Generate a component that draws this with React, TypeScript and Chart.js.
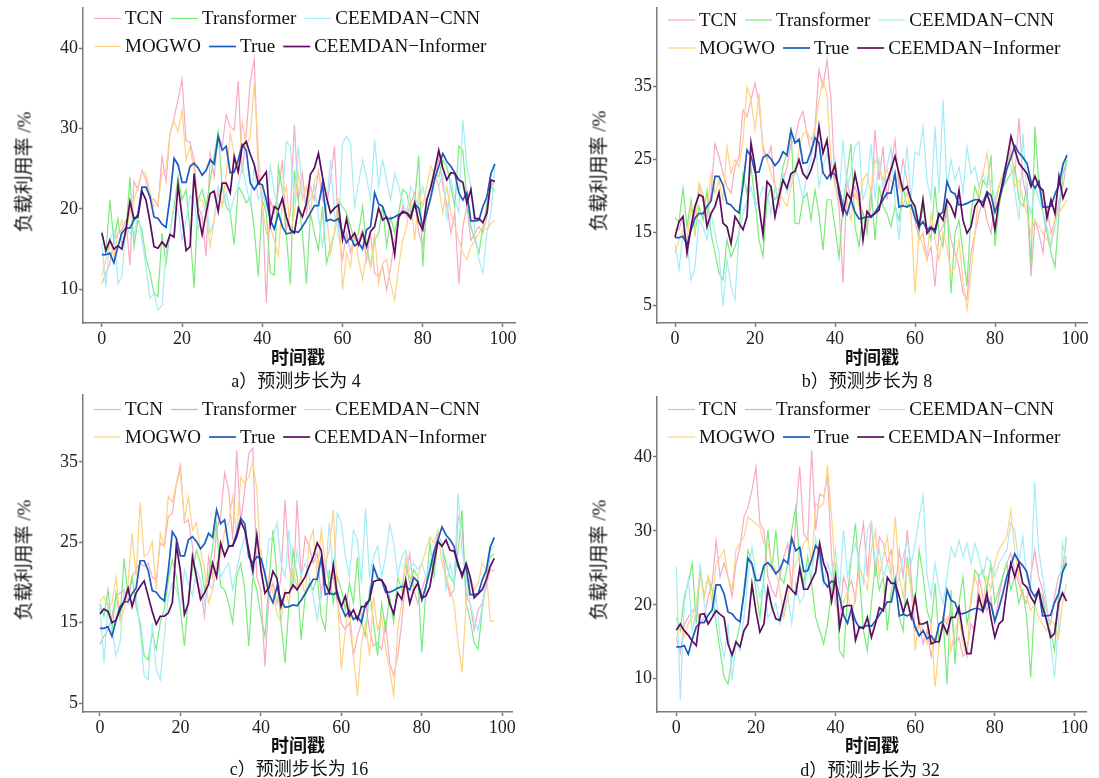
import React, { useEffect, useRef } from "react";
import { Chart, registerables } from "chart.js";

Chart.register(...registerables);

// ---------------- data ----------------
const X_TICKS = [0, 20, 40, 60, 80, 100];
const Y_TICKS_A = [10, 20, 30, 40];
const Y_TICKS_B = [5, 15, 25, 35];
const Y_TICKS_C = [5, 15, 25, 35];
const Y_TICKS_D = [10, 20, 30, 40];

const SERIES_NAMES = ["TCN", "Transformer", "CEEMDAN\u2212CNN", "MOGWO", "True", "CEEMDAN\u2212Informer"];

const TRUE_VALUES = [14.3,14.3,14.5,13.3,15.3,17.0,17.6,17.6,18.6,19.3,
22.7,22.7,21.5,19.0,18.8,18.1,17.7,21.5,26.3,25.5,
23.3,23.3,25.3,25.7,25.1,24.2,24.8,26.1,25.6,29.0,
27.3,27.8,24.5,24.6,26.1,28.0,27.3,23.2,22.4,23.2,
23.0,21.1,18.6,17.5,19.5,17.8,16.9,17.0,17.2,17.1,
17.8,18.6,19.5,20.4,20.4,23.1,18.5,18.7,18.5,18.8,
17.0,15.8,16.5,15.4,15.8,15.0,17.4,17.8,22.0,20.6,
20.3,18.8,18.8,19.0,19.3,19.5,19.5,19.1,20.6,20.1,
17.8,19.5,21.5,23.8,25.3,26.9,25.9,25.3,24.5,22.0,
21.1,22.0,18.5,18.5,18.6,20.3,21.5,24.4,25.6];

// panel a (step 4)
const A_TCN = [10.7,12.0,13.2,16.1,17.0,17.4,18.6,13.0,23.4,22.4,
24.8,23.6,21.3,21.2,20.3,26.5,23.4,29.4,31.3,33.6,
36.1,28.5,28.3,26.1,20.3,19.0,14.1,26.9,24.0,29.4,
27.8,31.7,30.2,29.8,35.9,24.4,29.4,35.9,38.6,24.4,
21.1,8.3,21.1,19.5,22.4,26.1,17.4,19.5,30.5,21.1,
24.4,19.5,22.8,21.1,24.8,21.1,20.3,23.6,27.8,17.0,
13.7,17.0,14.5,17.0,16.1,17.4,13.7,17.0,12.0,11.6,
12.8,9.9,12.8,16.1,18.6,20.3,19.0,20.7,22.0,17.0,
15.3,19.5,21.1,23.6,26.5,22.8,20.7,17.0,19.5,10.7,
17.8,20.3,16.1,17.0,17.8,17.0,19.0,22.8,23.6];
const A_TRANSFORMER = [17.2,14.5,21.1,16.1,18.8,15.5,17.0,24.0,15.3,18.6,
17.4,13.9,12.0,9.5,9.1,17.0,13.2,17.0,20.3,24.0,
21.1,22.4,17.0,10.2,21.1,22.4,20.3,23.6,26.5,29.6,
22.8,20.3,19.5,15.5,22.8,22.0,20.7,21.5,17.4,11.6,
21.1,19.5,12.0,11.8,25.3,22.4,16.6,10.6,24.8,21.1,
17.0,10.7,19.5,17.0,14.9,20.3,13.2,15.3,17.0,21.1,
20.3,19.5,17.8,16.1,17.0,20.3,15.3,12.8,16.1,17.0,
20.3,15.3,19.0,17.0,19.5,22.4,22.0,19.5,21.1,26.6,
12.8,21.1,22.8,24.4,24.0,26.1,25.3,22.8,20.3,27.8,
27.3,21.1,17.8,16.1,14.5,17.8,20.7,22.8,22.2];
const A_CNN = [15.7,10.3,16.1,17.4,10.7,11.6,17.8,17.0,16.5,19.5,
16.1,12.8,8.9,9.5,7.4,8.0,14.5,17.0,20.3,19.9,
16.1,18.6,21.7,20.7,17.4,19.5,20.3,17.0,18.6,22.8,
20.3,22.0,19.5,21.5,22.8,25.3,22.8,20.7,25.3,21.1,
22.0,20.3,25.3,22.0,20.3,21.1,28.4,27.8,20.7,27.8,
22.0,20.3,21.1,22.8,19.0,15.3,20.3,26.1,19.5,17.0,
28.2,29.0,28.2,20.3,23.2,26.1,24.0,21.1,28.6,22.8,
26.1,23.6,21.1,24.4,22.8,20.7,19.5,22.8,21.5,20.3,
22.8,20.3,21.1,24.0,22.8,24.4,18.6,23.6,21.1,19.5,
31.1,25.3,22.8,17.0,13.7,12.0,17.0,19.5,25.3];
const A_MOGWO = [11.6,13.7,16.1,14.1,17.0,18.6,17.0,19.5,21.1,22.8,
24.6,24.4,22.0,20.3,20.7,24.4,24.8,29.4,30.9,29.6,
32.3,26.1,27.8,24.8,21.1,21.1,19.5,15.3,18.6,22.0,
20.3,24.4,29.4,26.9,24.4,30.9,27.8,29.0,35.6,27.3,
20.3,17.0,17.8,16.1,14.1,21.1,22.8,17.0,19.5,24.4,
21.1,22.8,19.5,23.6,24.4,22.8,19.5,14.5,17.0,21.1,
9.9,14.5,12.8,17.0,13.7,11.2,14.5,12.8,17.0,10.7,
13.2,13.7,10.7,8.7,12.8,16.1,17.8,21.1,16.1,22.0,
20.3,22.8,25.3,24.4,22.8,19.5,22.8,19.5,17.8,16.1,
14.5,13.7,15.3,16.1,17.0,17.8,17.4,18.2,18.6];
const A_INFORMER = [17.0,14.8,16.1,15.0,15.4,15.0,17.4,20.9,18.8,19.0,
22.2,21.1,18.4,15.3,15.1,15.9,15.3,16.8,16.5,23.0,
19.0,14.8,15.3,24.4,19.5,16.8,19.5,21.9,22.2,19.7,
23.2,23.2,22.0,26.5,24.6,27.8,28.4,26.8,25.5,23.2,
23.9,24.6,18.0,20.3,19.9,21.3,19.0,17.4,17.0,20.1,
19.0,20.7,24.3,25.1,26.9,24.0,21.5,19.5,20.1,20.5,
16.2,18.8,16.3,17.0,15.5,17.0,15.3,17.2,17.8,20.1,
18.6,19.0,17.4,14.3,19.0,19.7,19.5,18.8,20.7,18.4,
17.4,21.1,22.7,24.9,27.3,25.1,23.6,24.5,24.4,23.6,
23.3,20.7,22.4,18.8,18.8,18.3,19.5,23.6,23.4];

// panel b (step 8)
const B_TCN = [15.4,15.4,17.2,13.1,15.8,17.6,21.3,19.5,17.2,20.4,
27.2,25.4,23.1,21.3,20.4,24.0,25.4,31.8,30.9,33.2,
35.5,32.7,26.8,25.0,26.8,21.3,18.6,22.2,24.0,27.2,
27.7,30.4,31.6,28.6,25.9,29.5,37.3,35.0,38.7,33.2,
21.8,18.6,8.1,22.2,19.5,21.3,19.5,17.6,15.8,18.6,
29.1,22.2,26.8,19.5,24.0,27.7,21.3,25.0,22.2,19.5,
16.7,14.0,14.9,11.3,13.1,7.6,14.9,15.8,17.6,14.0,
12.2,10.3,6.7,5.8,12.2,14.9,17.6,19.5,16.7,14.9,
19.5,21.3,23.1,24.0,25.9,23.1,30.7,22.2,19.5,9.0,
16.7,14.9,12.2,18.6,14.9,16.7,19.5,21.3,25.0];
const B_TRANSFORMER = [17.0,16.5,21.1,15.8,19.5,14.9,18.6,16.7,20.8,14.9,
12.2,9.4,8.5,14.0,11.7,13.1,14.9,23.1,20.4,24.0,
19.5,14.0,11.7,19.5,21.3,19.5,20.4,24.0,25.9,29.5,
16.3,16.2,19.5,20.4,16.7,20.8,17.6,12.6,19.5,19.5,
15.8,11.5,18.6,23.1,27.2,15.8,13.1,17.6,14.9,21.3,
14.0,21.3,18.6,17.6,15.8,18.6,16.7,21.3,18.6,19.5,
17.6,14.9,18.6,15.8,14.0,21.3,14.9,13.1,19.5,6.7,
14.9,16.7,12.2,7.6,17.6,21.3,19.5,22.2,21.3,25.6,
13.1,18.6,21.3,22.2,23.1,24.0,19.5,18.6,21.3,10.3,
29.5,21.3,17.6,14.9,12.2,10.3,17.6,23.1,25.0];
const B_CNN = [13.5,9.9,14.9,14.0,8.5,10.3,16.7,15.8,14.0,17.6,
14.9,12.2,4.9,11.3,7.6,5.8,14.9,17.6,19.5,21.3,
18.6,19.5,21.3,20.4,17.6,21.3,19.5,23.1,20.4,22.2,
24.0,22.2,19.5,23.1,25.0,28.6,21.3,24.0,25.9,22.2,
25.0,19.5,27.7,21.3,23.1,26.8,27.5,19.5,21.3,27.2,
19.5,25.0,21.3,24.0,26.8,19.5,14.0,21.3,26.8,19.5,
26.1,25.6,29.5,22.2,19.5,29.5,20.4,33.2,21.3,25.0,
22.2,24.0,20.4,26.8,23.1,24.0,21.3,23.1,21.3,22.2,
19.5,21.3,23.1,25.0,24.0,20.4,16.7,28.6,19.5,17.6,
21.3,19.5,17.6,15.8,13.1,15.8,18.6,24.0,25.9];
const B_MOGWO = [12.2,14.0,15.4,14.0,18.6,14.9,21.8,20.4,17.6,23.1,
20.4,22.2,19.5,26.8,23.1,25.0,24.0,27.7,35.0,33.2,
29.1,34.1,25.9,25.0,23.1,21.3,20.8,19.5,18.6,21.3,
23.1,26.3,28.6,28.8,27.7,29.1,33.2,35.9,33.9,25.0,
21.3,19.5,17.6,19.5,16.7,20.4,18.6,22.2,23.1,20.4,
25.0,24.0,22.2,23.6,22.2,21.3,23.1,18.6,20.4,17.6,
6.7,14.9,13.1,11.3,17.6,14.0,11.3,14.9,13.1,9.4,
10.3,14.0,8.5,4.4,9.4,14.9,21.3,23.1,25.9,20.4,
18.6,21.3,23.1,24.0,26.8,21.3,22.2,19.5,17.6,14.9,
16.7,15.8,14.9,14.0,13.5,17.1,17.6,18.6,19.5];
const B_INFORMER = [14.4,16.5,17.2,12.2,15.8,18.6,20.2,19.9,15.8,17.6,
18.6,20.5,16.3,15.8,13.5,17.2,16.3,15.4,17.2,27.3,
24.0,18.6,14.7,22.0,21.3,17.2,19.9,22.2,21.1,23.1,
23.4,25.0,23.1,22.4,23.6,25.4,29.6,25.9,27.7,22.7,
24.3,20.4,17.6,20.4,19.5,23.1,20.4,14.0,17.9,17.2,
17.6,18.1,20.4,22.0,23.6,25.5,23.1,20.8,21.3,19.5,
18.6,15.8,19.5,14.9,15.6,15.4,17.6,16.7,19.5,18.6,
17.2,20.8,16.7,14.9,15.8,18.6,19.5,18.6,20.4,18.6,
15.4,19.5,22.2,25.0,28.2,26.3,24.5,23.8,23.1,21.3,
22.7,21.3,20.8,17.0,19.5,17.6,22.7,19.7,21.1];

// panel c (step 16)
const C_TCN = [12.3,13.3,14.1,15.8,18.3,18.7,19.1,17.4,20.7,21.6,
22.4,22.0,22.4,20.7,20.3,24.9,24.5,28.2,28.6,32.3,
34.6,27.4,27.8,24.5,19.9,19.1,15.8,23.2,20.7,26.5,
28.2,33.6,31.5,25.3,36.4,27.4,31.5,36.0,36.7,20.7,
19.1,9.6,18.3,19.9,17.4,20.7,30.2,22.4,19.1,30.2,
20.7,25.7,24.5,22.4,23.6,18.3,22.4,19.9,20.7,17.4,
15.0,14.1,15.0,10.9,13.3,15.0,17.4,14.1,12.1,12.5,
11.7,15.0,10.0,8.4,10.9,15.0,20.7,23.6,19.1,17.4,
19.1,20.7,21.6,23.2,26.1,24.9,20.7,18.3,19.1,28.2,
26.9,18.3,17.4,14.1,16.6,17.4,19.5,21.6,21.4];
const C_TRANSFORMER = [17.4,15.8,19.1,14.1,18.7,15.4,23.0,18.3,20.7,17.0,
15.0,10.9,10.4,13.7,11.7,15.0,16.6,20.3,22.8,20.7,
16.6,12.1,18.3,21.6,24.0,22.4,19.1,20.7,24.5,27.4,
19.5,19.1,17.4,15.0,20.7,22.4,19.1,12.1,20.7,19.1,
15.8,13.3,19.9,26.5,20.7,15.0,10.0,17.4,24.0,20.7,
12.9,18.3,19.9,19.1,20.7,15.8,14.1,21.6,17.4,20.7,
19.1,16.6,19.9,17.4,23.2,15.0,13.3,19.1,15.0,10.9,
17.4,14.1,18.3,15.0,20.7,19.1,22.4,19.9,21.6,20.7,
11.3,19.1,24.9,20.7,25.3,24.5,22.4,20.7,19.9,24.0,
29.0,17.4,15.4,12.5,11.7,16.6,20.7,23.2,23.6];
const C_CNN = [17.4,10.0,17.4,14.1,10.9,12.5,19.1,18.3,17.4,18.3,
14.1,8.4,7.9,15.0,9.2,7.9,13.3,18.3,19.9,19.1,
17.0,21.6,19.9,18.3,21.6,20.3,17.4,19.9,19.1,22.4,
20.7,21.6,22.4,19.1,21.6,24.0,25.7,23.2,20.7,23.2,
24.0,20.7,25.3,25.7,27.4,22.4,20.7,26.5,19.1,24.0,
20.7,22.4,20.7,18.3,15.4,19.1,20.7,27.4,20.7,28.6,
27.4,23.2,20.7,26.5,25.3,19.9,29.2,20.7,23.2,24.5,
20.7,23.2,27.2,24.9,20.7,23.2,24.0,21.6,22.4,21.6,
22.4,20.7,22.4,24.0,25.7,24.9,19.1,22.4,19.9,31.1,
24.0,20.7,17.4,15.4,14.1,17.0,20.7,24.0,24.5];
const C_MOGWO = [17.6,18.3,17.0,17.4,20.7,15.4,16.6,19.9,26.1,20.7,
30.0,23.2,23.6,25.1,19.1,26.1,24.5,30.7,30.0,32.3,
33.8,27.8,30.7,26.5,27.4,24.0,21.6,17.4,19.1,22.4,
23.2,26.5,27.4,30.7,25.7,33.1,32.3,33.1,35.0,31.5,
22.4,18.3,20.7,18.7,16.2,15.0,19.1,17.4,21.6,19.1,
20.7,18.3,24.9,26.5,20.7,26.5,22.4,24.0,29.0,18.3,
9.2,14.1,17.4,10.9,5.9,12.5,15.0,10.9,18.3,14.1,
15.8,11.7,9.2,5.9,14.1,17.4,23.2,20.7,19.1,20.7,
22.4,24.0,25.7,24.9,26.5,22.4,20.7,19.1,17.4,12.5,
8.8,17.4,20.7,19.1,19.9,22.4,21.6,15.2,15.2];
const C_INFORMER = [16.1,16.7,16.4,15.0,15.3,16.6,17.6,19.3,17.0,18.7,
19.5,20.2,18.3,16.4,14.8,15.8,15.8,16.2,17.5,24.7,
21.4,16.0,17.4,23.2,20.7,17.9,18.7,19.8,22.4,20.7,
24.9,23.3,24.5,24.5,25.7,27.6,26.5,24.0,21.4,25.9,
21.6,18.7,19.3,21.4,20.5,17.0,18.7,18.7,19.7,19.1,
19.9,20.7,22.0,23.2,24.9,24.0,19.9,18.7,22.2,18.3,
17.0,18.3,15.8,16.6,15.4,17.0,17.0,17.9,20.1,20.3,
20.3,19.5,17.4,16.1,18.7,17.9,20.3,17.4,19.1,19.9,
18.1,18.3,19.5,22.4,25.1,24.5,25.3,24.0,23.9,22.4,
20.7,22.4,20.7,18.1,18.6,19.1,20.3,22.0,23.0];

// panel d (step 32)
const D_TCN = [15.4,13.4,17.4,18.3,19.2,19.7,17.4,18.3,21.1,22.9,
28.7,23.8,25.6,23.8,21.1,25.6,27.8,31.9,33.2,35.5,
38.6,31.0,30.1,23.8,22.0,21.1,23.8,26.5,28.3,22.0,
31.9,38.7,29.6,28.7,40.9,30.1,35.0,34.6,37.3,26.5,
20.2,18.3,23.8,22.0,23.3,20.6,27.4,31.0,23.8,31.4,
23.8,29.2,28.3,25.6,27.4,22.0,27.4,23.8,30.1,23.8,
16.5,17.4,14.7,16.5,13.0,15.6,14.7,18.3,17.4,19.2,
14.7,15.6,13.0,13.8,17.4,16.5,23.8,21.1,19.2,21.1,
17.4,21.1,23.8,25.6,27.0,24.7,22.9,21.1,20.2,23.8,
27.4,23.8,22.0,19.2,17.4,21.1,23.8,24.7,26.5];
const D_TRANSFORMER = [18.3,16.5,21.1,22.9,25.6,17.4,24.7,21.1,23.8,22.0,
17.4,13.8,10.2,9.3,12.9,14.7,17.4,22.0,27.4,25.6,
22.0,18.3,23.8,30.1,24.7,30.1,23.8,22.9,25.6,30.1,
33.2,25.6,22.9,26.5,22.9,18.3,16.5,14.7,17.4,22.0,
25.6,13.8,12.9,21.1,26.5,31.0,23.8,16.5,13.8,20.2,
25.6,22.0,23.8,16.5,22.0,23.8,18.3,16.5,26.5,22.0,
20.2,27.4,23.8,19.2,17.4,22.9,14.7,18.3,9.3,22.0,
12.0,20.2,23.8,17.4,20.2,24.7,23.8,24.7,22.0,25.6,
20.2,22.0,23.8,25.6,22.0,23.8,20.2,22.0,18.3,10.2,
20.2,22.0,21.1,17.4,16.5,13.8,21.1,24.7,29.2];
const D_CNN = [25.1,7.1,20.2,23.5,16.5,19.2,25.6,20.2,17.4,18.3,
21.1,15.6,12.9,17.4,9.8,14.7,13.8,18.3,23.8,27.8,
23.8,21.1,22.9,18.3,19.2,20.2,17.4,19.2,21.1,17.4,
22.9,20.2,21.1,25.6,23.8,29.0,25.6,22.9,25.6,23.8,
27.4,22.0,30.1,23.8,26.5,28.3,25.6,22.9,30.1,31.2,
25.6,27.4,23.8,25.6,23.8,22.0,23.8,26.5,28.7,25.6,
28.3,31.9,34.8,23.8,21.1,25.6,22.0,20.2,23.8,27.8,
26.5,28.7,26.5,28.3,25.6,28.3,26.5,23.8,26.5,25.6,
23.8,25.6,26.5,27.4,31.0,30.1,25.6,29.2,23.8,22.0,
36.6,27.4,23.8,20.2,14.7,10.2,17.4,28.3,25.6];
const D_MOGWO = [15.4,17.4,15.6,17.4,18.3,20.2,23.8,21.1,23.8,20.2,
25.6,26.5,27.4,23.8,22.0,27.4,28.3,29.2,31.9,31.4,
31.0,30.5,28.3,28.3,25.6,24.7,22.0,18.3,21.1,23.8,
25.6,26.5,28.3,29.2,25.6,33.7,33.2,33.7,38.9,31.9,
23.8,21.1,20.2,22.0,18.3,21.1,24.7,23.8,22.0,27.4,
30.1,23.8,26.5,29.2,23.8,31.9,23.8,21.1,25.6,22.0,
13.8,18.3,16.5,14.7,17.4,8.9,14.7,17.4,18.3,13.8,
16.5,18.3,14.7,12.9,21.1,23.8,22.0,20.2,23.8,22.0,
25.6,27.4,28.3,29.2,32.8,27.4,23.8,21.1,21.1,19.2,
20.2,18.3,17.4,16.5,17.9,17.4,15.6,20.2,22.9];
const D_INFORMER = [16.6,17.4,16.5,15.9,15.1,14.5,18.7,18.8,17.4,18.3,
19.2,18.7,18.3,14.7,13.2,15.0,14.3,16.5,17.4,22.8,
19.2,16.3,17.4,22.2,19.7,18.1,17.9,20.2,22.6,22.0,
21.4,24.9,22.1,22.1,23.3,24.4,28.3,25.6,24.2,20.5,
23.8,16.9,19.7,19.9,19.9,15.2,17.0,16.8,18.3,15.6,
17.4,19.6,19.2,23.7,22.9,22.9,21.1,19.0,20.6,18.3,
21.1,17.4,17.4,17.7,14.7,15.0,15.0,17.4,16.1,18.3,
18.3,19.7,16.1,13.4,13.4,17.4,21.1,19.2,21.6,18.3,
15.6,17.4,17.9,22.0,25.6,23.8,25.6,22.9,22.4,21.1,
20.2,22.0,19.7,17.9,15.6,16.1,20.2,21.6,20.5];

// ---------------- styles ----------------
const FONT = '"Liberation Serif", "Times New Roman", "Noto Sans CJK SC", serif';
const COLORS = ["#f8a9c3", "#7beb7b", "#a3ecf6", "#fdd385", "#1a5cbf", "#5b0d5f"];
const WIDTHS = [1.2, 1.2, 1.2, 1.2, 1.7, 1.7];
const ORDERS = [5, 4, 3, 2, 1, 0];
const AXIS_COLOR = "#7a7a7a";

type Panel = {
  left: number; top: number; width: number; height: number;
  padTop: number; padRight: number; yWidth: number; xHeight: number;
  xMin: number; xMax: number; yMin: number; yMax: number; yTicks: number[];
  series: number[][]; legendY: [number, number];
  xTitle: [number, number]; caption: string; capPos: [number, number]; yLabel: [number, number];
};

const PANELS: Panel[] = [
  {
    left: 0, top: 0, width: 549, height: 389, padTop: 8, padRight: 34, yWidth: 83, xHeight: 66,
    xMin: -4.7, xMax: 103, yMin: 5.8, yMax: 45, yTicks: Y_TICKS_A,
    series: [A_TCN, A_TRANSFORMER, A_CNN, A_MOGWO, TRUE_VALUES, A_INFORMER], legendY: [18.5, 46.5],
    xTitle: [298, 358], caption: "a）预测步长为 4", capPos: [296, 381], yLabel: [24, 172],
  },
  {
    left: 549, top: 0, width: 550, height: 389, padTop: 8, padRight: 12, yWidth: 108, xHeight: 66,
    xMin: -4.5, xMax: 103, yMin: 2.6, yMax: 45.8, yTicks: Y_TICKS_B,
    series: [B_TCN, B_TRANSFORMER, B_CNN, B_MOGWO, TRUE_VALUES, B_INFORMER], legendY: [20, 48],
    xTitle: [872, 358], caption: "b）预测步长为 8", capPos: [867, 381], yLabel: [599, 171],
  },
  {
    left: 0, top: 389, width: 549, height: 389, padTop: 6, padRight: 37, yWidth: 83, xHeight: 66,
    xMin: -4.2, xMax: 102.4, yMin: 3.9, yMax: 43.3, yTicks: Y_TICKS_C,
    series: [C_TCN, C_TRANSFORMER, C_CNN, C_MOGWO, TRUE_VALUES, C_INFORMER], legendY: [20.5, 48],
    xTitle: [298, 746], caption: "c）预测步长为 16", capPos: [299, 769], yLabel: [24, 560],
  },
  {
    left: 549, top: 389, width: 550, height: 389, padTop: 8, padRight: 13, yWidth: 108, xHeight: 66,
    xMin: -4.85, xMax: 102.9, yMin: 5.5, yMax: 48.1, yTicks: Y_TICKS_D,
    series: [D_TCN, D_TRANSFORMER, D_CNN, D_MOGWO, TRUE_VALUES, D_INFORMER], legendY: [20.5, 48],
    xTitle: [872, 746], caption: "d）预测步长为 32", capPos: [870, 770], yLabel: [599, 560],
  },
];

function makeLegendPlugin(rowsY: [number, number]) {
  return {
    id: "inlineLegend",
    afterDraw(chart: any) {
      const ctx = chart.ctx;
      const area = chart.chartArea;
      ctx.save();
      ctx.font = `19px ${FONT}`;
      ctx.textBaseline = "middle";
      ctx.textAlign = "left";
      const rows = [[0, 1, 2], [3, 4, 5]];
      rows.forEach((row, r) => {
        let x = area.left + 11;
        const y = rowsY[r];
        row.forEach((idx) => {
          ctx.strokeStyle = COLORS[idx];
          ctx.lineWidth = WIDTHS[idx];
          ctx.beginPath();
          ctx.moveTo(x, y);
          ctx.lineTo(x + 27, y);
          ctx.stroke();
          x += 31;
          ctx.fillStyle = "#111";
          ctx.fillText(SERIES_NAMES[idx], x, y + 1);
          x += ctx.measureText(SERIES_NAMES[idx]).width + 8;
        });
      });
      ctx.restore();
    },
  };
}

function PanelChart({ p }: { p: Panel }) {
  const ref = useRef<HTMLCanvasElement | null>(null);
  useEffect(() => {
    if (!ref.current) return;
    const datasets = p.series.map((vals, k) => ({
      label: SERIES_NAMES[k],
      data: vals.map((v, i) => ({ x: i, y: v })),
      borderColor: COLORS[k],
      backgroundColor: COLORS[k],
      borderWidth: WIDTHS[k],
      pointRadius: 0,
      tension: 0,
      fill: false,
      order: ORDERS[k],
    }));
    const chart = new Chart(ref.current, {
      type: "line",
      data: { datasets },
      options: {
        responsive: false,
        animation: false,
        devicePixelRatio: 1,
        layout: { padding: { left: 0, top: p.padTop, right: p.padRight, bottom: 0 } },
        plugins: { legend: { display: false }, tooltip: { enabled: false } },
        scales: {
          x: {
            type: "linear",
            min: p.xMin,
            max: p.xMax,
            afterBuildTicks: (s: any) => { s.ticks = X_TICKS.map((v) => ({ value: v })); },
            afterFit: (s: any) => { s.height = p.xHeight; s.paddingLeft = 0; s.paddingRight = 0; },
            grid: { display: true, drawOnChartArea: false, drawTicks: true, tickLength: 4, color: AXIS_COLOR, tickColor: AXIS_COLOR, tickWidth: 1.5 },
            border: { display: true, color: AXIS_COLOR, width: 1.5 },
            ticks: { color: "#222", font: { family: FONT, size: 18 }, padding: 1, maxRotation: 0, autoSkip: false },
          },
          y: {
            type: "linear",
            min: p.yMin,
            max: p.yMax,
            afterBuildTicks: (s: any) => { s.ticks = p.yTicks.map((v) => ({ value: v })); },
            afterFit: (s: any) => { s.width = p.yWidth; s.paddingTop = 0; s.paddingBottom = 0; },
            grid: { display: true, drawOnChartArea: false, drawTicks: true, tickLength: 4, color: AXIS_COLOR, tickColor: AXIS_COLOR, tickWidth: 1.5 },
            border: { display: true, color: AXIS_COLOR, width: 1.5 },
            ticks: { color: "#222", font: { family: FONT, size: 18 }, padding: 1, autoSkip: false },
          },
        },
      } as any,
      plugins: [makeLegendPlugin(p.legendY)],
    });
    return () => chart.destroy();
  }, [p]);
  return (
    <canvas
      ref={ref}
      width={p.width}
      height={p.height}
      style={{ position: "absolute", left: p.left, top: p.top, width: p.width, height: p.height }}
    />
  );
}

const textBase: React.CSSProperties = {
  position: "absolute",
  whiteSpace: "nowrap",
  fontFamily: FONT,
  color: "#111",
  lineHeight: 1,
};

export default function App() {
  return (
    <div style={{ position: "absolute", left: 0, top: 0, width: 1099, height: 778, background: "#fff", overflow: "hidden" }}>
      {PANELS.map((p, i) => (
        <React.Fragment key={i}>
          <PanelChart p={p} />
          <div style={{ ...textBase, left: p.xTitle[0], top: p.xTitle[1], fontSize: 18, fontWeight: "bold", transform: "translate(-50%, -50%)" }}>
            时间戳
          </div>
          <div style={{ ...textBase, left: p.capPos[0], top: p.capPos[1], fontSize: 18, transform: "translate(-50%, -50%)" }}>
            {p.caption}
          </div>
          <div style={{ ...textBase, left: p.yLabel[0], top: p.yLabel[1], fontSize: 19, transform: "translate(-50%, -50%) rotate(-90deg)" }}>
            负载利用率 /%
          </div>
        </React.Fragment>
      ))}
    </div>
  );
}
